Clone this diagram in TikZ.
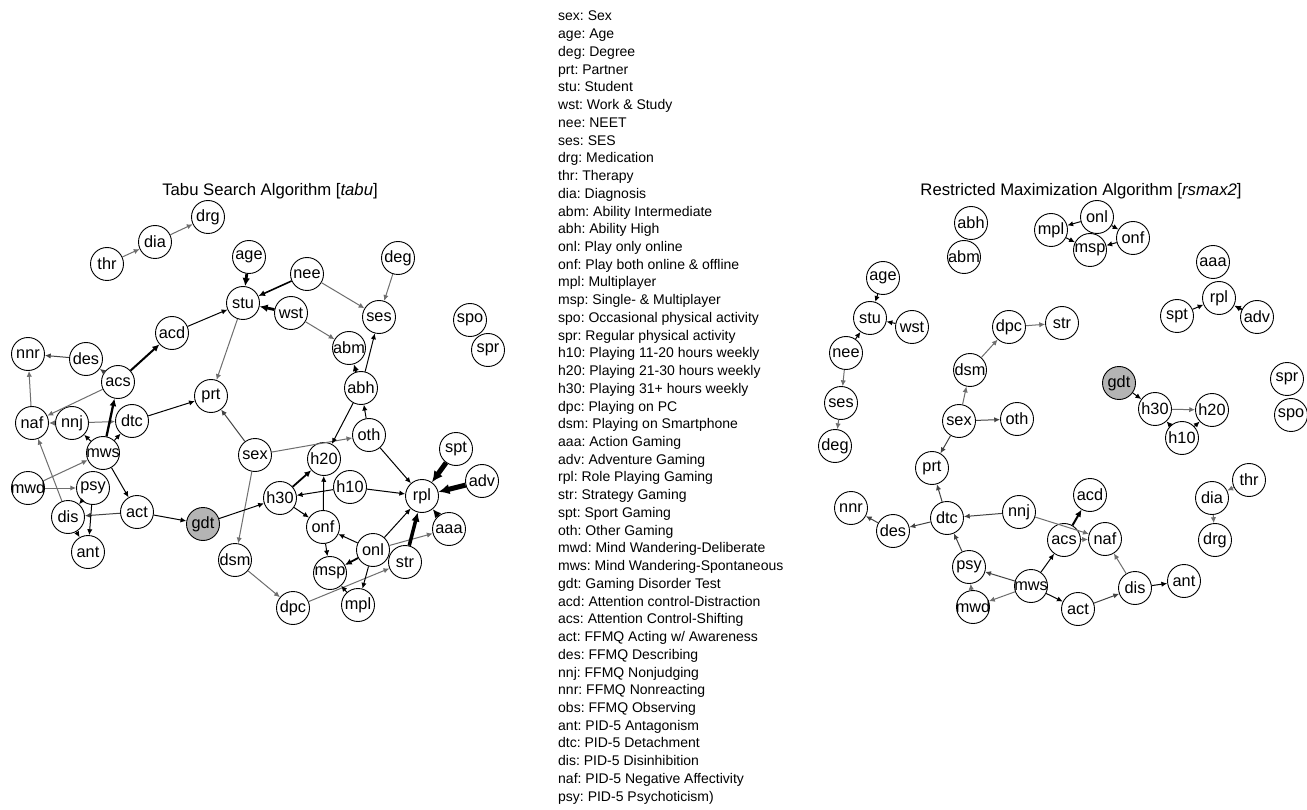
\documentclass[tikz,border=0pt]{standalone}
\usepackage{fontspec}
\setmainfont{Liberation Sans}
\usetikzlibrary{arrows.meta}
\frenchspacing
\definecolor{eg}{HTML}{6E6E6E}
\definecolor{edg}{HTML}{424242}
\definecolor{gdtfill}{HTML}{B4B4B4}
\newcommand\gn[4][]{\node[nd,#1] (#2) at (#3) {\makebox[0pt]{#4}};}
\tikzset{
  nd/.style={circle, draw=black, line width=0.9pt, fill=white, minimum size=33pt, inner sep=0pt, font=\fontsize{16.3}{16}\selectfont},
  ed/.style={line width=1pt, -{Latex[length=4.5pt 1.3, width=4pt 1.3]}},
  eb/.style={ed, draw=black},
  egr/.style={ed, draw=eg},
  edk/.style={ed, draw=edg},
  legend/.style={font=\fontsize{14}{14}\selectfont, inner sep=0pt, anchor=base west},
  ttl/.style={font=\fontsize{16.7}{17}\selectfont, inner sep=0pt}
}
\begin{document}
\begin{tikzpicture}[x=1pt,y=-1pt]
\useasboundingbox[fill=white] (0,0) rectangle (1307,810);

% ---------------- titles ----------------
\node[ttl] (tl) at (270,191) {Tabu Search Algorithm [\textit{tabu}]};
\node[ttl] (tr) at (1081,191) {Restricted Maximization Algorithm [\textit{rsmax2}]};

% ---------------- legend ----------------
\foreach \t [count=\i from 0] in {
sex: Sex, age: Age, deg: Degree, prt: Partner, stu: Student, wst: Work \& Study,
nee: NEET, ses: SES, drg: Medication, thr: Therapy, dia: Diagnosis,
abm: Ability Intermediate, abh: Ability High, onl: Play only online,
onf: Play both online \& offline, mpl: Multiplayer, msp: Single- \& Multiplayer,
spo: Occasional physical activity, spr: Regular physical activity,
h10: Playing 11-20 hours weekly, h20: Playing 21-30 hours weekly,
h30: Playing 31+ hours weekly, dpc: Playing on PC, dsm: Playing on Smartphone,
aaa: Action Gaming, adv: Adventure Gaming, rpl: Role Playing Gaming,
str: Strategy Gaming, spt: Sport Gaming, oth: Other Gaming,
mwd: Mind Wandering-Deliberate, mws: Mind Wandering-Spontaneous,
gdt: Gaming Disorder Test, acd: Attention control-Distraction,
acs: Attention Control-Shifting, act: FFMQ Acting w/ Awareness,
des: FFMQ Describing, nnj: FFMQ Nonjudging, nnr: FFMQ Nonreacting,
obs: FFMQ Observing, ant: PID-5 Antagonism, dtc: PID-5 Detachment,
dis: PID-5 Disinhibition, naf: PID-5 Negative Affectivity,
psy: PID-5 Psychoticism)}
  \node[legend] (leg\i) at (558,{21+17.73*\i}) {\t};

% ---------------- left graph nodes ----------------
\gn{Ldrg}{208,217}{drg}
\gn{Ldia}{155,242}{dia}
\gn{Lthr}{107,264}{thr}
\gn{Lage}{249,257}{age}
\gn{Lnee}{307,274}{nee}
\gn{Ldeg}{398,258}{deg}
\gn{Lstu}{243,303}{stu}
\gn{Lwst}{291,313}{wst}
\gn{Lses}{379,317}{ses}
\gn{Lacd}{172,333}{acd}
\gn{Labm}{349,348}{abm}
\gn{Lnnr}{28,354}{nnr}
\gn{Ldes}{86,359}{des}
\gn{Lacs}{118,382}{acs}
\gn{Labh}{361,388}{abh}
\gn{Lprt}{211,396}{prt}
\gn{Lspo}{470,320}{spo}
\gn{Lspr}{488,350}{spr}
\gn{Lnaf}{32,423}{naf}
\gn{Lnnj}{72,423}{nnj}
\gn{Ldtc}{132,421}{dtc}
\gn{Loth}{369,435}{oth}
\gn{Lsex}{255,455}{sex}
\gn{Lh20}{324,459}{h20}
\gn{Lspt}{456,449}{spt}
\gn{Lmws}{103,453}{mws}
\gn{Lh10}{350,487}{h10}
\gn{Lrpl}{422,496}{rpl}
\gn{Ladv}{482,481}{adv}
\gn{Lmwd}{28,488}{mwd}
\gn{Lpsy}{93,488}{psy}
\gn{Lh30}{280,498}{h30}
\gn{Lact}{137,512}{act}
\gn{Ldis}{68,517}{dis}
\gn[fill=gdtfill]{Lgdt}{203,524}{gdt}
\gn{Lonf}{323,527}{onf}
\gn{Laaa}{449,529}{aaa}
\gn{Lonl}{373,550}{onl}
\gn{Lant}{88,552}{ant}
\gn{Ldsm}{235,560}{dsm}
\gn{Lstr}{405,562}{str}
\gn{Lmsp}{330,573}{msp}
\gn{Lmpl}{358,605}{mpl}
\gn{Ldpc}{293,608}{dpc}

% ---------------- left graph edges ----------------
\draw[egr] (Lthr) -- (Ldia);
\draw[egr] (Ldia) -- (Ldrg);
\draw[egr] (Lnee) -- (Lses);
\draw[egr] (Ldeg) -- (Lses);
\draw[egr] (Lwst) -- (Labm);
\draw[egr] (Lstu) -- (Lprt);
\draw[egr] (Lacs) -- (Lnaf);
\draw[egr] (Lnaf) -- (Lnnr);
\draw[egr] (Lnnj) -- (Lnaf);
\draw[egr] (Lnnj) -- (Ldtc);
\draw[egr] (Lmwd) -- (Lmws);
\draw[egr] (Lmwd) -- (Lpsy);
\draw[egr] (Ldis) -- (Lnaf);
\draw[egr] (Lsex) -- (Ldsm);
\draw[egr] (Lsex) -- (Loth);
\draw[egr] (Ldsm) -- (Ldpc);
\draw[egr] (Ldpc) -- (Lstr);
\draw[egr] (Lonl) -- (Laaa);
\draw[edk] (Ldes) -- (Lnnr);
\draw[edk, line width=1.3pt] (Lacs) -- (Ldes);
\draw[edk] (Lact) -- (Ldis);
\draw[edk] (Lsex) -- (Lprt);
\draw[eb, line width=1.6pt] (Lnee) -- (Lstu);
\draw[eb] (Lacd) -- (Lstu);
\draw[eb] (Lmws) -- (Lnnj);
\draw[eb] (Lmws) -- (Ldtc);
\draw[eb] (Ldtc) -- (Lprt);
\draw[eb] (Lmws) -- (Lact);
\draw[eb] (Lpsy) -- (Ldis);
\draw[eb] (Lpsy) -- (Lant);
\draw[eb] (Ldis) -- (Lant);
\draw[eb] (Lact) -- (Lgdt);
\draw[eb] (Lgdt) -- (Lh30);
\draw[eb] (Loth) -- (Labh);
\draw[eb] (Labh) -- (Lses);
\draw[eb] (Labh) -- (Lh20);
\draw[eb] (Loth) -- (Lrpl);
\draw[eb] (Lh10) -- (Lh30);
\draw[eb] (Lh10) -- (Lrpl);
\draw[eb] (Lonf) -- (Lh20);
\draw[eb] (Lh30) -- (Lonf);
\draw[eb] (Lonl) -- (Lonf);
\draw[eb] (Lonf) -- (Lmsp);
\draw[eb] (Lonl) -- (Lmpl);
\draw[eb] (Lmpl) -- (Lmsp);
\draw[eb] (Lonl) -- (Lrpl);
\draw[eb, line width=2.8pt] (Lage) -- (Lstu);
\draw[eb, line width=2.8pt] (Lwst) -- (Lstu);
\draw[eb, line width=2pt] (Lacs) -- (Lacd);
\draw[eb, line width=2.3pt] (Lmws) -- (Lacs);
\draw[eb, line width=1.8pt] (Labh) -- (Labm);
\draw[eb, line width=1.8pt] (Lh30) -- (Lh20);
\draw[eb, line width=1.8pt] (Lonl) -- (Lmsp);
\draw[eb, line width=3.5pt] (Lstr) -- (Lrpl);
\draw[eb, line width=3pt] (Laaa) -- (Lrpl);
\draw[eb, line width=5pt] (Lspt) -- (Lrpl);
\draw[eb, line width=5pt] (Ladv) -- (Lrpl);

% ---------------- right graph nodes ----------------
\gn{Rabh}{971,223}{abh}
\gn{Rabm}{964,257}{abm}
\gn{Ronl}{1097,217}{onl}
\gn{Rmpl}{1051,230}{mpl}
\gn{Ronf}{1133,238}{onf}
\gn{Rmsp}{1090,250}{msp}
\gn{Raaa}{1213,262}{aaa}
\gn{Rage}{883,278}{age}
\gn{Rrpl}{1219,298}{rpl}
\gn{Rspt}{1177,316}{spt}
\gn{Radv}{1257,317}{adv}
\gn{Rstu}{870,318}{stu}
\gn{Rwst}{912,327}{wst}
\gn{Rdpc}{1009,327}{dpc}
\gn{Rstr}{1062,323}{str}
\gn{Rnee}{846,353}{nee}
\gn{Rdsm}{970,370}{dsm}
\gn{Rspr}{1287,379}{spr}
\gn[fill=gdtfill]{Rgdt}{1119,383}{gdt}
\gn{Rses}{841,403}{ses}
\gn{Rh30}{1155,409}{h30}
\gn{Rh20}{1212,410}{h20}
\gn{Rspo}{1291,415}{spo}
\gn{Rsex}{959,421}{sex}
\gn{Roth}{1017,419}{oth}
\gn{Rh10}{1182,438}{h10}
\gn{Rdeg}{835,446}{deg}
\gn{Rprt}{932,468}{prt}
\gn{Rthr}{1249,480}{thr}
\gn{Rdia}{1212,498}{dia}
\gn{Racd}{1090,495}{acd}
\gn{Rnnr}{851,508}{nnr}
\gn{Rnnj}{1019,512}{nnj}
\gn{Rdtc}{947,518}{dtc}
\gn{Rdes}{893,531}{des}
\gn{Rdrg}{1215,540}{drg}
\gn{Racs}{1064,540}{acs}
\gn{Rnaf}{1105,539}{naf}
\gn{Rpsy}{969,567}{psy}
\gn{Rant}{1184,581}{ant}
\gn{Rmws}{1031,586}{mws}
\gn{Rdis}{1135,588}{dis}
\gn{Rmwd}{973,607}{mwd}
\gn{Ract}{1078,609}{act}

% ---------------- right graph edges ----------------
\draw[egr] (Rnee) -- (Rses);
\draw[egr] (Rses) -- (Rdeg);
\draw[egr] (Rsex) -- (Rdsm);
\draw[egr] (Rdsm) -- (Rdpc);
\draw[egr] (Rdpc) -- (Rstr);
\draw[egr] (Rnnj) -- (Rnaf);
\draw[egr] (Rmwd) -- (Rpsy);
\draw[egr] (Rmws) -- (Rmwd);
\draw[egr] (Racs) -- (Rnaf);
\draw[egr] (Rdis) -- (Rnaf);
\draw[egr] (Rh30) -- (Rh20);
\draw[egr] (Rthr) -- (Rdia);
\draw[egr] (Rdia) -- (Rdrg);
\draw[edk] (Rsex) -- (Roth);
\draw[edk] (Rsex) -- (Rprt);
\draw[edk] (Rdtc) -- (Rprt);
\draw[edk] (Rdtc) -- (Rdes);
\draw[edk] (Rdes) -- (Rnnr);
\draw[edk] (Rnnj) -- (Rdtc);
\draw[edk] (Rpsy) -- (Rdtc);
\draw[edk] (Rmws) -- (Rpsy);
\draw[edk] (Ract) -- (Rdis);
\draw[eb] (Rage) -- (Rstu);
\draw[eb] (Rwst) -- (Rstu);
\draw[eb] (Rnee) -- (Rstu);
\draw[eb] (Rmws) -- (Racs);
\draw[eb] (Rmws) -- (Ract);
\draw[eb] (Rdis) -- (Rant);
\draw[eb] (Ronl) -- (Rmpl);
\draw[eb] (Ronl) -- (Ronf);
\draw[eb] (Rmpl) -- (Rmsp);
\draw[eb] (Ronf) -- (Rmsp);
\draw[eb] (Rspt) -- (Rrpl);
\draw[eb] (Rgdt) -- (Rh30);
\draw[eb] (Rh10) -- (Rh30);
\draw[eb] (Rh10) -- (Rh20);
\draw[eb, line width=2pt] (Racs) -- (Racd);
\draw[eb, line width=1.7pt] (Radv) -- (Rrpl);
\end{tikzpicture}
\end{document}
